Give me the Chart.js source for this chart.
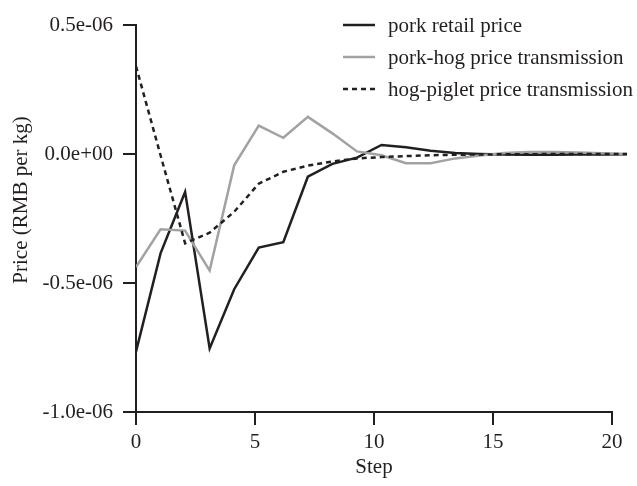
<!DOCTYPE html>
<html>
<head>
<meta charset="utf-8">
<script src="https://cdn.jsdelivr.net/npm/chart.js@4/dist/chart.umd.min.js"></script>
<style>
  html, body { margin: 0; padding: 0; background: #fff; }
  #wrap { width: 637px; height: 486px; }
</style>
</head>
<body>
<div id="wrap"><canvas id="irfChart" width="637" height="486"></canvas></div>
<script>
// steps of the impulse response
const steps = [0, 1, 2, 3, 4, 5, 6, 7, 8, 9, 10, 11, 12, 13, 14, 15, 16, 17, 18, 19, 20];

// responses, RMB per kg
const porkRetail = [-0.766e-6, -0.385e-6, -0.147e-6, -0.754e-6, -0.524e-6, -0.363e-6, -0.342e-6, -0.088e-6, -0.038e-6, -0.014e-6,
  0.035e-6, 0.026e-6, 0.013e-6, 0.004e-6, 0.000, -0.002e-6, -0.003e-6, -0.003e-6, -0.002e-6, -0.002e-6, -0.001e-6];
const porkHog = [-0.438e-6, -0.292e-6, -0.297e-6, -0.452e-6, -0.044e-6, 0.110e-6, 0.063e-6, 0.144e-6, 0.080e-6, 0.010e-6,
  -0.005e-6, -0.036e-6, -0.036e-6, -0.017e-6, -0.006e-6, 0.004e-6, 0.008e-6, 0.008e-6, 0.006e-6, 0.003e-6, 0.000];
const hogPiglet = [0.340e-6, -0.005e-6, -0.346e-6, -0.305e-6, -0.224e-6, -0.115e-6, -0.069e-6, -0.045e-6, -0.029e-6, -0.017e-6,
  -0.012e-6, -0.008e-6, -0.005e-6, -0.003e-6, -0.002e-6, -0.001e-6, -0.001e-6, 0.000, 0.000, 0.000, 0.000];

const seriesNames = ['pork retail price', 'pork-hog price transmission', 'hog-piglet price transmission'];

// axis ticks
const xTickValues = [0, 5, 10, 15, 20];
const yTickValues = [-1.0e-6, -0.5e-6, 0, 0.5e-6];
const yTickLabels = ['-1.0e-06', '-0.5e-06', '0.0e+00', '0.5e-06'];
const xTitle = 'Step';
const yTitle = 'Price (RMB per kg)';

const INK = '#231f20';
const GREY = '#a2a2a2';
const FONT = '"Liberation Serif", "Times New Roman", serif';

const toPoints = vals => vals.map((v, i) => ({ x: steps[i], y: v }));

// legend, axis line and titles drawn by hand
const decorations = {
  id: 'decorations',
  beforeDatasetsDraw(chart) {
    const ctx = chart.ctx;
    const xs = chart.scales.xStep;
    const ys = chart.scales.y;
    ctx.save();
    ctx.strokeStyle = INK;
    ctx.lineWidth = 2;
    ctx.beginPath();
    ctx.moveTo(xs.getPixelForValue(0) - 1, ys.bottom);
    ctx.lineTo(xs.getPixelForValue(20) + 1, ys.bottom);
    ctx.stroke();
    ctx.restore();
  },
  afterDraw(chart) {
    const ctx = chart.ctx;
    const xs = chart.scales.xStep;
    const area = chart.chartArea;
    ctx.save();
    ctx.fillStyle = INK;
    ctx.font = '21px ' + FONT;

    // x title
    ctx.textAlign = 'center';
    ctx.textBaseline = 'middle';
    ctx.fillText(xTitle, xs.getPixelForValue(10), 467);

    // y title
    ctx.save();
    ctx.translate(21, 200);
    ctx.rotate(-Math.PI / 2);
    ctx.fillText(yTitle, 0, 0);
    ctx.restore();

    // legend
    ctx.textAlign = 'left';
    chart.data.datasets.forEach((ds, i) => {
      const y = area.top + i * 32;
      ctx.save();
      ctx.strokeStyle = ds.borderColor;
      ctx.lineWidth = ds.borderWidth;
      ctx.setLineDash(ds.borderDash || []);
      ctx.beginPath();
      ctx.moveTo(343, y);
      ctx.lineTo(375, y);
      ctx.stroke();
      ctx.restore();
      ctx.fillText(ds.label, 388, y + 1);
    });
    ctx.restore();
  }
};

const ctx = document.getElementById('irfChart').getContext('2d');

new Chart(ctx, {
  type: 'line',
  data: {
    datasets: [{
        label: seriesNames[0],
        data: toPoints(porkRetail),
        borderColor: INK,
        borderWidth: 2.5,
        order: 3,
      },
      {
        label: seriesNames[1],
        data: toPoints(porkHog),
        borderColor: GREY,
        borderWidth: 2.5,
        order: 2,
      },
      {
        label: seriesNames[2],
        data: toPoints(hogPiglet),
        borderColor: INK,
        borderWidth: 2.5,
        borderDash: [5, 4],
        order: 1,
      }
    ]
  },
  options: {
    responsive: false,
    animation: false,
    elements: {
      point: { radius: 0 },
      line: { tension: 0, fill: false }
    },
    layout: {
      padding: { left: 0, right: 10, top: 25, bottom: 0 }
    },
    plugins: {
      legend: { display: false },
      tooltip: { enabled: false }
    },
    scales: {
      x: {
        type: 'linear',
        min: 0,
        max: 20,
        display: false
      },
      xStep: {
        type: 'linear',
        position: 'bottom',
        min: 0,
        max: 20.63,
        afterBuildTicks: s => { s.ticks = xTickValues.map(v => ({ value: v })); },
        afterFit: s => { s.height = 74; },
        border: { display: false },
        grid: {
          drawOnChartArea: false,
          drawTicks: true,
          tickLength: 13,
          lineWidth: 2,
          color: INK
        },
        ticks: {
          color: INK,
          padding: 5,
          maxRotation: 0,
          font: { family: FONT, size: 21 }
        }
      },
      y: {
        type: 'linear',
        min: -1.0e-6,
        max: 0.5e-6,
        afterBuildTicks: s => { s.ticks = yTickValues.map(v => ({ value: v })); },
        afterFit: s => { s.width = 136; },
        border: { display: true, color: INK, width: 2 },
        grid: {
          drawOnChartArea: false,
          drawTicks: true,
          tickLength: 13,
          lineWidth: 2,
          color: INK
        },
        ticks: {
          color: INK,
          padding: 10,
          font: { family: FONT, size: 21 },
          callback: (value, index) => yTickLabels[index]
        }
      }
    }
  },
  plugins: [decorations]
});
</script>
</body>
</html>
